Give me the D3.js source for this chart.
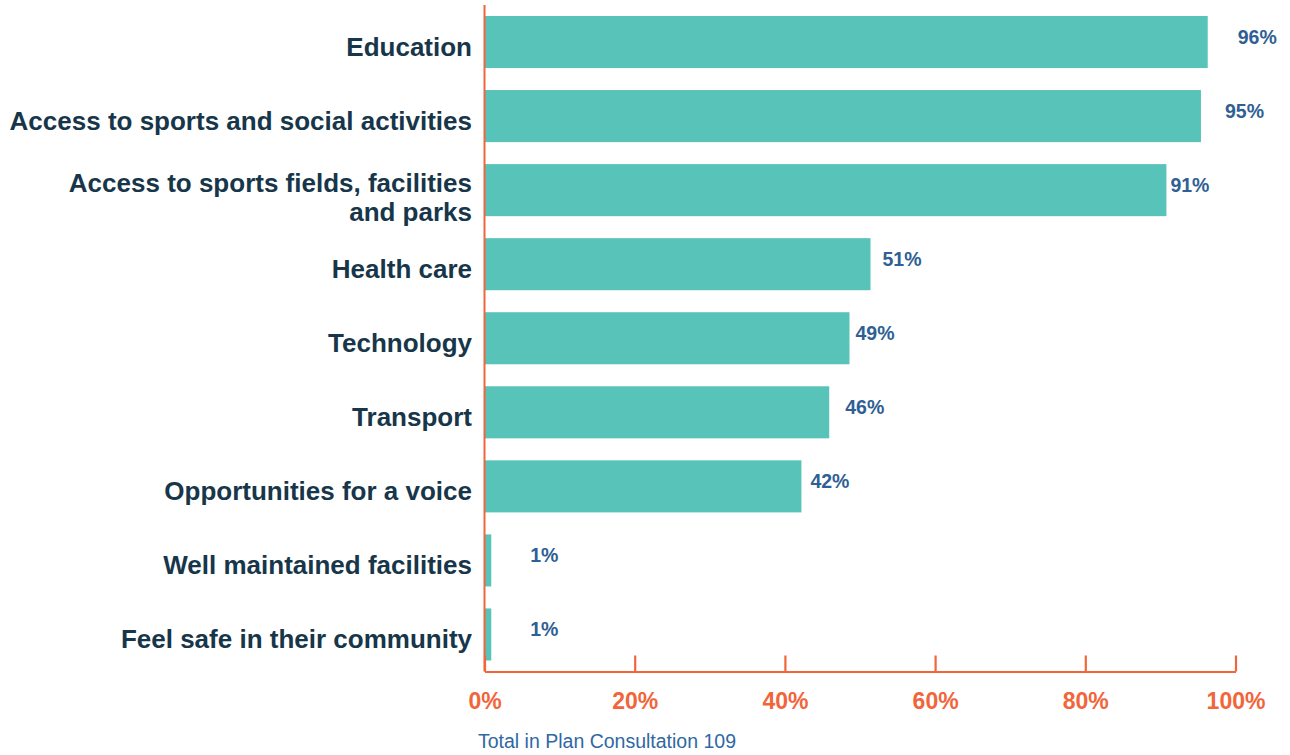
<!DOCTYPE html>
<html lang="en">
<head>
<meta charset="utf-8">
<title>Plan Consultation</title>
<script src="https://cdnjs.cloudflare.com/ajax/libs/d3/7.8.5/d3.min.js"></script>
<style>
  body { margin: 0; background: #fff; }
  svg { display: block; font-family: "Liberation Sans", Arial, sans-serif; }
  .cat { font-size: 26px; font-weight: bold; fill: #17364a; }
  .val { font-size: 19.5px; font-weight: bold; fill: #2f5f94; }
  .tick-lbl { font-size: 23px; font-weight: bold; fill: #f2653a; }
  .note { font-size: 19.5px; fill: #2f68a3; }
</style>
</head>
<body>
<div id="chart"></div>
<script>
// categories, top to bottom (second entry of a pair is the wrapped line)
const categories = [
  ["Education"],
  ["Access to sports and social activities"],
  ["Access to sports fields, facilities", "and parks"],
  ["Health care"],
  ["Technology"],
  ["Transport"],
  ["Opportunities for a voice"],
  ["Well maintained facilities"],
  ["Feel safe in their community"]
];
// percentage of respondents (109 total)
const values = [96.3, 95.4, 90.8, 51.4, 48.6, 45.9, 42.2, 0.9, 0.9];
const valueLabels = ["96%", "95%", "91%", "51%", "49%", "46%", "42%", "1%", "1%"];
const tickValues = [0, 20, 40, 60, 80, 100];
const tickLabels = ["0%", "20%", "40%", "60%", "80%", "100%"];
const footnote = "Total in Plan Consultation 109";

// layout: how far each value label sits past its bar end (as in the original)
const labelGap = [30, 24, 4, 12, 6, 16, 9, 39, 39];

const width = 1290, height = 755;
const x0 = 484.5, x1 = 1235.5, yTop = 5, yAxis = 671.5;

const svg = d3.select("#chart").append("svg")
    .attr("width", width)
    .attr("height", height);

const x = d3.scaleLinear().domain([0, 100]).range([x0, x1]);
const y = d3.scaleBand()
    .domain(d3.range(categories.length))
    .range([yTop, yAxis])
    .paddingInner(0.297)
    .paddingOuter(0.1485);

// bars
svg.append("g").selectAll("rect")
  .data(values)
  .join("rect")
    .attr("x", x(0))
    .attr("y", (d, i) => y(i))
    .attr("width", d => x(d) - x(0))
    .attr("height", y.bandwidth())
    .attr("fill", "#58c3b8");

// value labels
svg.append("g").selectAll("text")
  .data(values)
  .join("text")
    .attr("class", "val")
    .attr("x", (d, i) => x(d) + labelGap[i])
    .attr("y", (d, i) => y(i) + y.bandwidth() / 2 + 2)
    .text((d, i) => valueLabels[i]);

// category labels
const cat = svg.append("g").selectAll("text")
  .data(categories)
  .join("text")
    .attr("class", "cat")
    .attr("text-anchor", "end")
    .attr("x", x0 - 12.5)
    .attr("y", (d, i) => y(i) + y.bandwidth() / 2 + 13.5 - (d.length - 1) * 11.5);
cat.selectAll("tspan")
  .data(d => d)
  .join("tspan")
    .attr("x", x0 - 12.5)
    .attr("dy", (d, j) => j ? 29 : 0)
    .text(d => d);

// x axis along the bottom, ticks pointing up
const xAxis = d3.axisBottom(x)
    .tickValues(tickValues)
    .tickSize(-16)
    .tickSizeOuter(0)
    .tickFormat((d, i) => tickLabels[i]);

const ax = svg.append("g")
    .attr("transform", `translate(0,${yAxis})`)
    .call(xAxis);
ax.select(".domain").attr("stroke", "#f2653a").attr("stroke-width", 2.2);
ax.selectAll(".tick line").attr("stroke", "#f2653a").attr("stroke-width", 2.2);
ax.selectAll(".tick text")
    .attr("class", "tick-lbl")
    .attr("y", 37)
    .attr("dy", 0)
    .attr("fill", null);

// vertical axis line
svg.append("line")
    .attr("x1", x0).attr("x2", x0)
    .attr("y1", yTop).attr("y2", yAxis)
    .attr("stroke", "#f2653a")
    .attr("stroke-width", 2);

svg.append("text")
    .attr("class", "note")
    .attr("x", 478)
    .attr("y", 748)
    .text(footnote);
</script>
</body>
</html>
